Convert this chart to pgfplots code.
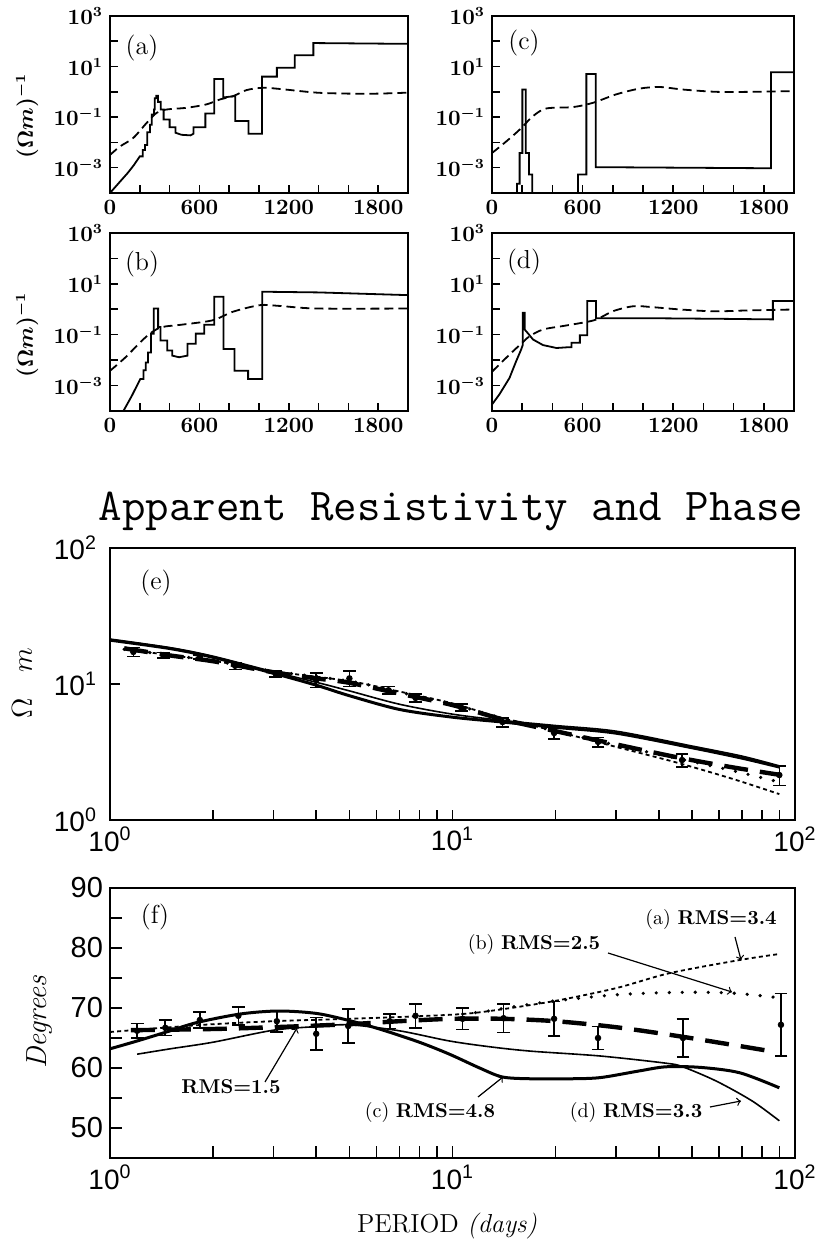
\documentclass[border=0pt]{standalone}
\usepackage{fontspec}
\usepackage{pgfplots}
\pgfplotsset{compat=1.18}
\newfontfamily\helv{Liberation Sans}

\pgfkeys{/pgf/number format/1000 sep={}}
\pgfplotsset{
  smallpanel/.style={
    scale only axis, width=149pt, height=88.5pt,
    xmin=0, xmax=2000, ymin=1e-4, ymax=1e3,
    xtick={0,600,1200,1800}, minor xtick={200,400,800,1000,1400,1600},
    ytick={1e-3,1e-1,1e1,1e3}, minor ytick={1e-2,1,1e2},
    tick pos=left, tick align=inside,
    major tick length=4pt, minor tick length=4pt,
    tick style={black, line width=0.8pt},
    axis line style={line width=1.3pt},
    tick label style={font=\fontsize{10.5}{12}\selectfont\boldmath},
  },
  bigpanel/.style={
    scale only axis, width=342.5pt,
    xmin=1, xmax=100,
    xtick={1,10,100},
    xticklabels={10\textsuperscript{0},10\textsuperscript{1},10\textsuperscript{2}},
    minor xtick={2,3,4,5,6,7,8,9,20,30,40,50,60,70,80,90},
    tick pos=left, tick align=inside,
    major tick length=5pt, minor tick length=5pt,
    tick style={black, line width=0.8pt},
    axis line style={line width=1.3pt},
    tick label style={font=\helv\fontsize{14}{16}\selectfont},
  },
  lnsolid/.style={black, line width=0.9pt},
  lndash/.style={black, line width=0.9pt, dash pattern=on 4.5pt off 2.5pt},
  lnbest/.style={black, line width=2.2pt, dash pattern=on 12pt off 6pt},
  lnmoda/.style={black, line width=0.9pt, dash pattern=on 2pt off 1.6pt},
  lnmodb/.style={black, line width=1.8pt, line cap=round, dash pattern=on 0pt off 6.5pt},
  lnmodc/.style={black, line width=1.5pt},
  lnmodd/.style={black, line width=0.8pt},
}

\begin{document}
\begin{tikzpicture}
\path[use as bounding box] (0,0) rectangle (413pt,620pt);

% (a)
\begin{semilogyaxis}[smallpanel, at={(55pt,523.5pt)}, anchor=south west]
\addplot[lnsolid] coordinates {(0,1e-4)(67,2.8e-4)(120,6.3e-4)(160,1.26e-3)(200,2.8e-3)(220,2.8e-3)(220,5e-3)(235,5e-3)(235,7.9e-3)(250,7.9e-3)(250,2.5e-2)(268,2.5e-2)(268,5e-2)(280,5e-2)(280,0.126)(295,0.126)(295,0.2)(300,0.2)(300,0.56)(310,0.56)(310,0.7)(322,0.7)(322,0.4)(340,0.4)(340,0.2)(360,0.2)(360,8e-2)(400,8e-2)(400,4e-2)(440,4e-2)(440,2.4e-2)(480,2e-2)(540,1.9e-2)(560,2.2e-2)(560,4e-2)(640,4e-2)(640,0.14)(700,0.14)(700,3.2)(760,3.2)(760,0.6)(840,0.68)(840,7e-2)(930,7e-2)(930,2.2e-2)(1020,2.2e-2)(1020,4)(1120,4)(1120,8.9)(1240,8.9)(1240,28)(1365,28)(1365,85)(2000,79)};
\addplot[lndash, smooth] coordinates {(0,3.2e-3)(67,6.9e-3)(156,1.5e-2)(246,5.9e-2)(313,0.148)(380,0.2)(514,0.234)(648,0.32)(738,0.5)(827,0.68)(916,1.17)(1028,1.45)(1162,1.26)(1386,0.93)(1600,0.85)(1800,0.85)(2000,0.93)};
\end{semilogyaxis}

% (c)
\begin{semilogyaxis}[smallpanel, at={(246pt,523.5pt)}, anchor=south west, width=151pt]
\addplot[lnsolid] coordinates {(0,1e-5)(166,1e-5)(166,2.3e-4)(183,2.3e-4)(183,3.8e-3)(201,3.8e-3)(201,1.23)(223,1.23)(223,3.8e-3)(245,3.8e-3)(245,5.4e-4)(267,5.4e-4)(267,1e-5)(570,1e-5)(570,5.4e-4)(625,5.4e-4)(625,5.1)(687,5.1)(687,1.05e-3)(1848,9.5e-4)(1848,6.0)(2000,6.0)};
\addplot[lndash, smooth] coordinates {(0,3.8e-3)(95,1.1e-2)(183,3.2e-2)(272,0.11)(360,0.22)(537,0.25)(670,0.37)(824,0.8)(979,1.35)(1112,1.55)(1266,1.23)(1487,1)(1708,1)(2000,1.07)};
\end{semilogyaxis}

% (b)
\begin{semilogyaxis}[smallpanel, at={(55pt,414.5pt)}, anchor=south west, height=89pt]
\addplot[lnsolid] coordinates {(90,1e-4)(147,4e-4)(203,1.8e-3)(225,1.8e-3)(225,4e-3)(240,4e-3)(240,8e-3)(255,8e-3)(255,2e-2)(275,2e-2)(275,0.11)(294,0.11)(294,1.07)(323,1.07)(323,0.2)(339,0.2)(339,5.9e-2)(384,5.9e-2)(384,2.4e-2)(418,2.4e-2)(418,1.5e-2)(463,1.3e-2)(520,1.5e-2)(520,4.4e-2)(576,4.4e-2)(576,0.11)(633,0.11)(633,0.245)(700,0.245)(700,3.1)(762,3.1)(762,2.75e-2)(836,2.75e-2)(836,3.8e-3)(927,3.8e-3)(927,1.8e-3)(1022,1.8e-3)(1022,4.9)(1400,4.6)(2000,3.6)};
\addplot[lndash, smooth] coordinates {(0,3.8e-3)(102,1.26e-2)(215,5.9e-2)(282,0.126)(350,0.2)(486,0.25)(690,0.37)(825,0.8)(1006,1.45)(1141,1.35)(1390,1.07)(2000,1.07)};
\end{semilogyaxis}

% (d)
\begin{semilogyaxis}[smallpanel, at={(246pt,414.5pt)}, anchor=south west, width=151pt, height=89pt]
\addplot[lnsolid] coordinates {(0,1.8e-4)(49,4.5e-4)(116,2e-3)(160,9.1e-3)(193,2.6e-2)(204,4e-2)(204,0.72)(216,0.72)(216,0.16)(240,0.11)(271,6.5e-2)(338,3.9e-2)(427,3e-2)(500,3.2e-2)(527,3.2e-2)(527,4.8e-2)(582,4.8e-2)(582,9.5e-2)(631,9.5e-2)(631,2.1)(689,2.1)(689,0.44)(1138,0.44)(1538,0.42)(1860,0.4)(1860,2.1)(2000,2.1)};
\addplot[lndash, smooth] coordinates {(0,3.5e-3)(71,9.1e-3)(138,2.2e-2)(193,4.4e-2)(249,8.7e-2)(338,0.16)(471,0.22)(604,0.3)(693,0.4)(804,0.85)(938,1.32)(1071,1.2)(1249,0.98)(1471,0.83)(1693,0.9)(2000,0.98)};
\end{semilogyaxis}

\node[rotate=90, font=\fontsize{10.5}{12}\selectfont\boldmath] at (13.5pt,562pt) {$(\Omega m)^{-1}$};
\node[rotate=90, font=\fontsize{10.5}{12}\selectfont\boldmath] at (13.5pt,452.5pt) {$(\Omega m)^{-1}$};
\node[font=\fontsize{13}{15}\selectfont] at (71pt,596pt) {(a)};
\node[font=\fontsize{13}{15}\selectfont] at (71pt,488pt) {(b)};
\node[font=\fontsize{13}{15}\selectfont] at (262pt,598.5pt) {(c)};
\node[font=\fontsize{13}{15}\selectfont] at (262pt,489pt) {(d)};

\node[anchor=base, font=\ttfamily\fontsize{22.8}{26}\selectfont] at (225.5pt,359.5pt) {Apparent Resistivity and Phase};

% (e)
\begin{loglogaxis}[bigpanel, at={(55pt,210pt)}, anchor=south west, height=136pt,
  ymin=1, ymax=100, ytick={1,10,100},
  yticklabels={10\textsuperscript{0},10\textsuperscript{1},10\textsuperscript{2}},
  yminorticks=false, yticklabel style={xshift=-3pt}]
\addplot[lnmodd, smooth] coordinates {(1,21.4)(1.5,18.5)(2,16.0)(3,12.3)(4,10.3)(5,8.9)(7,7.1)(10,6.0)(14,5.4)(20,4.95)(30,4.5)(50,3.5)(70,2.95)(90,2.5)};
\addplot[lnmodc, smooth] coordinates {(1,21)(1.5,18.2)(2,15.7)(3,12.0)(4,9.8)(5,8.2)(7,6.5)(10,5.7)(14,5.25)(20,4.8)(30,4.35)(50,3.4)(70,2.85)(90,2.45)};
\addplot[lnmoda, smooth] coordinates {(1.1,18)(2,14.8)(3,12.4)(5,10.5)(7,8.8)(10,7.2)(14,5.6)(20,4.5)(30,3.45)(45,2.65)(66,2.0)(90,1.55)};
\addplot[lnmodb, smooth] coordinates {(1.1,18)(2,14.8)(3,12.4)(5,10.5)(7,8.7)(10,7.1)(14,5.6)(20,4.5)(30,3.55)(45,2.85)(66,2.3)(90,1.9)};
\addplot[lnbest, smooth] coordinates {(1.1,18.3)(1.5,16.2)(2,14.7)(3,12.2)(4,11.0)(5,10.2)(7,8.5)(10,7.0)(14,5.5)(20,4.5)(30,3.6)(45,2.9)(65,2.45)(90,2.15)};
\addplot[black, only marks, mark=*, mark size=1.4pt,
  error bars/.cd, y dir=both, y explicit,
  error bar style={line width=0.8pt},
  error mark options={rotate=90, mark size=3.2pt, line width=0.8pt}]
coordinates {
(1.17,17.2) +- (0,1.3)
(1.43,16.3) +- (0,0.8)
(1.83,15.8) +- (0,0.6)
(2.32,13.6) +- (0,0.8)
(3.05,11.8) +- (0,0.6)
(4.0,10.7) +- (0,1.3)
(5.0,11.0) +- (0,1.4)
(6.5,9.0) +- (0,0.6)
(7.8,7.9) +- (0,0.5)
(10.6,6.7) +- (0,0.4)
(14.0,5.25) +- (0,0.4)
(19.8,4.36) +- (0,0.4)
(26.6,3.75) +- (0,0.3)
(46.8,2.76) +- (0,0.3)
(90,2.14) +- (0,0.35)
};
\end{loglogaxis}
\node[rotate=90, font=\fontsize{14}{16}\selectfont] at (11pt,278.5pt) {$\Omega\hspace{0.9em}m$};
\node[font=\fontsize{13}{15}\selectfont] at (78pt,328.5pt) {(e)};

% (f)
\begin{semilogxaxis}[bigpanel, at={(55pt,41pt)}, anchor=south west, height=135pt,
  ymin=45, ymax=90, ytick={50,60,70,80,90}, yticklabels={50,60,70,80,90},
  minor ytick={55,65,75,85}, yticklabel style={font=\helv\fontsize{14.5}{16}\selectfont},
  major tick length=6pt, minor tick length=6pt]
\addplot[lnmoda, smooth] coordinates {(1,66)(1.5,66.8)(2,67.3)(3,67.8)(5,68.2)(7,68.5)(10.7,69)(14,69.8)(20,71.2)(30,73.3)(43,75.8)(69,78)(90,79)};
\addplot[lnmodb, smooth] coordinates {(10.7,69)(12.4,69.4)(15,70.2)(20,71.2)(30,72.2)(45,72.6)(65,72.5)(90,71.7)};
\addplot[lnbest, smooth] coordinates {(1.15,66.3)(2,66.5)(3,66.8)(5,67.3)(7,67.8)(10,68.2)(14,68.2)(20,67.8)(30,66.8)(47,65.2)(85,62.8)};
\addplot[lnmodc, smooth] coordinates {(1,63.2)(1.2,64.5)(1.5,66.2)(1.8,67.6)(2.4,69)(3.1,69.5)(4,69.1)(5,67.9)(6.2,66.4)(8,64.3)(9.8,62.3)(12,60)(14,58.5)(17,58.2)(22,58.2)(27,58.4)(35,59.5)(42,60.2)(53,60.1)(69,59.2)(90,56.7)};
\addplot[lnmodd, smooth] coordinates {(1.2,62.3)(1.5,63.2)(2,64.3)(3,66.3)(4,66.9)(5,67.2)(7,66.2)(9.8,64.5)(13,63.5)(17,62.8)(27,62)(42,60.8)(47,60.2)(59,57.8)(75,54.5)(90,51.2)};
\addplot[black, only marks, mark=*, mark size=1.4pt,
  error bars/.cd, y dir=both, y explicit,
  error bar style={line width=0.8pt},
  error mark options={rotate=90, mark size=3.2pt, line width=0.8pt}]
coordinates {
(1.2,66.2) +- (0,1.2)
(1.45,66.7) +- (0,1.3)
(1.83,68) +- (0,1.3)
(2.37,68.7) +- (0,1.5)
(3.07,67.8) +- (0,1.8)
(4.0,65.7) +- (0,2.7)
(4.96,67.0) +- (0,2.8)
(6.56,67.8) +- (0,1.2)
(7.8,68.7) +- (0,2)
(10.7,68.2) +- (0,1.8)
(14.1,68.3) +- (0,2.4)
(19.8,68.2) +- (0,2.9)
(26.6,65.0) +- (0,1.9)
(47.1,65.0) +- (0,3.2)
(91,67.2) +- (0,5.2)
};
\end{semilogxaxis}
\node[font=\fontsize{13}{15}\selectfont] at (77.5pt,161.5pt) {(f)};
\node[rotate=90, font=\fontsize{14.5}{16}\selectfont\itshape] at (20pt,109pt) {Degrees};
\node[anchor=base, font=\fontsize{13}{15}\selectfont] at (223.5pt,4pt) {PERIOD \textit{(days)}};

\begin{scope}[font=\fontsize{10}{12}\selectfont]
\node at (115.5pt,76.5pt) {\textbf{RMS=1.5}};
\node at (215pt,63.5pt) {(c)\ \textbf{RMS=4.8}};
\node at (318pt,63.5pt) {(d)\ \textbf{RMS=3.3}};
\node at (267pt,147.5pt) {(b)\ \textbf{RMS=2.5}};
\node at (355.5pt,160pt) {(a)\ \textbf{RMS=3.4}};
\draw[->, line width=0.6pt] (132.5pt,79pt) -- (148.5pt,106pt);
\draw[->, line width=0.6pt] (239pt,71.5pt) -- (251.5pt,81.5pt);
\draw[->, line width=0.6pt] (355pt,66.5pt) -- (370.5pt,69.5pt);
\draw[->, line width=0.6pt] (304pt,143.5pt) -- (366pt,124pt);
\draw[->, line width=0.6pt] (367.5pt,151.5pt) -- (370.5pt,140pt);
\end{scope}
\end{tikzpicture}
\end{document}
